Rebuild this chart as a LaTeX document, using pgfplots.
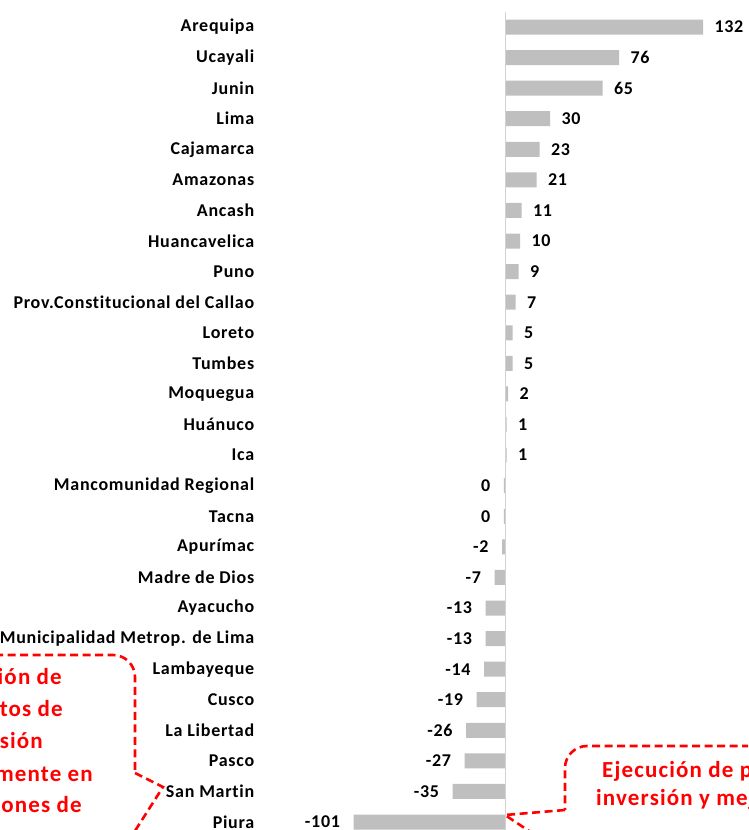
\documentclass[border=0pt]{standalone}
\usepackage{fontspec}
\setmainfont{Carlito}
\newfontfamily\lblfont[LetterSpace=4,Ligatures=NoCommon]{Carlito}
\newfontfamily\callfont[LetterSpace=5,Ligatures=NoCommon]{Carlito}
\usepackage{pgfplots}
\pgfplotsset{compat=1.18}
\begin{document}
\begin{tikzpicture}
\useasboundingbox (0,0) rectangle (748pt,830pt);
\clip (0,0) rectangle (748pt,830pt);
\begin{axis}[
  at={(0pt,0pt)}, anchor=south west,
  scale only axis, width=748pt, height=830pt,
  xmin=-336.667, xmax=162,
  ymin=-0.883, ymax=26.26, y dir=reverse,
  axis line style={draw=none}, tick style={draw=none},
  xtick=\empty,
  ytick={0,...,26},
  yticklabels={Arequipa,Ucayali,Junin,Lima,Cajamarca,Amazonas,Ancash,Huancavelica,Puno,Prov.Constitucional del Callao,Loreto,Tumbes,Moquegua,Huánuco,Ica,Mancomunidad Regional\ ,Tacna,Apurímac,Madre de Dios,Ayacucho,Municipalidad Metrop. de Lima,Lambayeque,Cusco,La Libertad,Pasco,San Martin,Piura},
  yticklabel style={anchor=east, xshift=262pt, font=\lblfont\bfseries\fontsize{18}{21}\selectfont},
  xbar, bar width=15pt,
  clip=false,
  point meta=explicit symbolic,
  nodes near coords,
  every node near coord/.append style={font=\lblfont\bfseries\fontsize{18}{21}\selectfont, text=black},
]
\addplot[fill=gray!50, draw=none, bar shift=0pt,
  every node near coord/.append style={anchor=west, xshift=8pt}]
coordinates {
(132,0) [132]
(76,1) [76]
(65,2) [65]
(30,3) [30]
(23,4) [23]
(21,5) [21]
(11,6) [11]
(10,7) [10]
(9,8) [9]
(7,9) [7]
(5,10) [5]
(5,11) [5]
(2,12) [2]
(1,13) [1]
(1,14) [1]
};
\addplot[fill=gray!50, draw=none, bar shift=0pt,
  every node near coord/.append style={anchor=east, xshift=-10pt}]
coordinates {
(-0.8,15) [0]
(-0.8,16) [0]
(-2,17) [-2]
(-7,18) [-7]
(-13,19) [-13]
(-13,20) [-13]
(-14,21) [-14]
(-19,22) [-19]
(-26,23) [-26]
(-27,24) [-27]
(-35,25) [-35]
(-101,26) [-101]
};
\draw[color=gray!35, line width=1pt] (axis cs:0,-0.49) -- (axis cs:0,27);
\end{axis}
\begin{scope}[shift={(0pt,830pt)}, x=1pt, y=-1pt]
\tikzset{callout/.style={draw=red, line width=2.6pt, dash pattern=on 8pt off 4.5pt}}
\draw[callout, rounded corners=22pt] (-30,655) -- (135,655) -- (135,773);
\draw[callout] (135,773) -- (163,787) -- (126,845);
\draw[callout, rounded corners=22pt] (800,746) -- (565,746) -- (565,810);
\draw[callout] (565,810) -- (505,815) -- (550,845);
\begin{scope}[every node/.style={text=red, font=\callfont\bfseries\fontsize{23}{27}\selectfont, inner sep=0pt}]
\node[anchor=base east] at (62,685) {Ejecución de};
\node[anchor=base east] at (63,717) {proyectos de};
\node[anchor=base east] at (43,749) {inversión};
\node[anchor=base east] at (93,782) {principalmente en};
\node[anchor=base east] at (82,813) {funciones de};
\node[anchor=base west] at (602,778) {Ejecución de proyectos};
\node[anchor=base west] at (596,806) {inversión y mejoramiento};
\end{scope}
\end{scope}
\end{tikzpicture}
\end{document}
